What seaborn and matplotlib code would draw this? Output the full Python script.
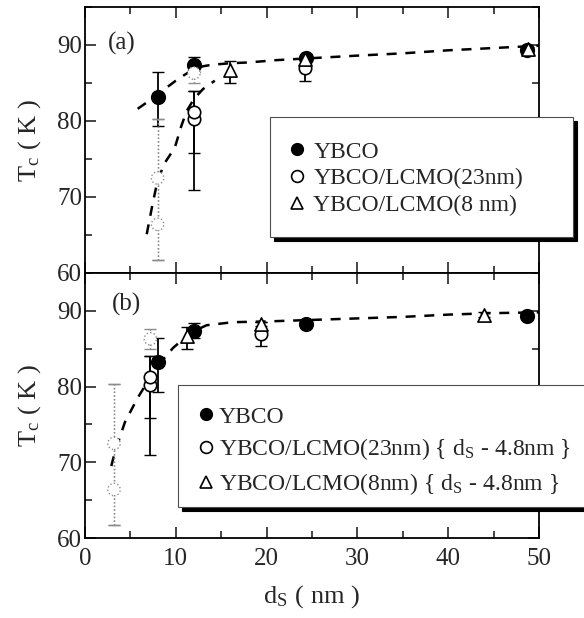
import numpy as np
import matplotlib
matplotlib.use("Agg")
import matplotlib.pyplot as plt
from matplotlib.lines import Line2D
from matplotlib.patches import Rectangle, Shadow
from matplotlib.ticker import MultipleLocator
import seaborn as sns

# YBCO single layer films
ybco_x = [8.0, 12.0, 24.3, 48.7]
ybco_y = [83.2, 87.4, 88.3, 89.3]
ybco_lo = [79.3, 86.4, 87.9, 89.0]
ybco_hi = [86.4, 88.4, 88.7, 89.6]

# YBCO/LCMO(23nm) superlattices (clear points)
l23_x = [12.0, 12.0, 24.2]
l23_y = [80.2, 81.2, 87.0]
l23_lo = [70.9, 75.8, 85.3]
l23_hi = [84.0, 84.0, 88.5]

# YBCO/LCMO(23nm) superlattices (faint points)
l23f_x = [8.0, 8.0, 12.0]
l23f_y = [72.5, 66.4, 86.3]
l23f_lo = [61.7, 61.7, 85.0]
l23f_hi = [80.3, 80.3, 87.6]

# YBCO/LCMO(8nm) superlattices
l8_x = [16.0, 24.2, 48.8]
l8_y = [86.7, 88.2, 89.5]
l8_lo = [85.0, 88.0, 89.2]
l8_hi = [87.9, 88.5, 89.8]

shift = 4.8

# dashed guide lines
fit_a1_x = [5.8, 7, 8, 9, 10, 11, 12, 13, 14, 16, 18, 21, 24, 30, 35, 40, 45, 50]
fit_a1_y = [81.6, 82.6, 83.5, 84.4, 85.3, 86.1, 86.8, 87.2, 87.4, 87.6, 87.7, 88.0,
            88.2, 88.6, 88.9, 89.3, 89.6, 89.9]
fit_a2_x = [6.8, 7.4, 8.0, 8.8, 9.9, 10.6, 11.2, 12.0, 13.0, 14.3]
fit_a2_y = [65.1, 68.8, 72.2, 74.5, 76.5, 79.3, 81.3, 82.9, 84.2, 85.3]
fit_b_x = [2.9, 3.3, 4.4, 5.8, 7.9, 9.7, 11.6, 13.4, 16.3, 20, 25, 30, 35, 40, 45, 50]
fit_b_y = [69.5, 71.4, 75.3, 78.5, 82.6, 85.1, 87.1, 88.1, 88.5, 88.6, 88.8, 89.0,
           89.2, 89.5, 89.7, 89.8]

sns.set_style("ticks")
plt.rcParams['font.family'] = ['Liberation Serif', 'DejaVu Serif']
plt.rcParams['mathtext.fontset'] = 'stix'

W, H = 584, 618


def points(ax, x, y, lo, hi, marker, face, s, faint=False):
    y = np.array(y)
    yerr = [y - np.array(lo), np.array(hi) - y]
    col = '0.55' if faint else 'black'
    eb = ax.errorbar(x, y, yerr=yerr, fmt='none', ecolor=col, capsize=4,
                     elinewidth=1.0 if faint else 1.3, capthick=1.0, zorder=2)
    if faint:
        eb[2][0].set_linestyle(':')
    sns.scatterplot(x=list(x), y=list(y), ax=ax, marker=marker, s=s,
                    color=face, edgecolor=col, linewidth=1.0 if faint else 1.2,
                    linestyle=':' if faint else '-', zorder=3, legend=False)


def guide(ax, x, y):
    sns.lineplot(x=x, y=y, ax=ax, color='black', linestyle=(0, (4, 3.5)),
                 linewidth=1.8, sort=False, estimator=None, zorder=1)


def style(ax):
    ax.set_xlim(0, 50)
    ax.set_ylim(60, 95)
    ax.xaxis.set_major_locator(MultipleLocator(10))
    ax.xaxis.set_minor_locator(MultipleLocator(5))
    ax.yaxis.set_major_locator(MultipleLocator(10))
    ax.yaxis.set_minor_locator(MultipleLocator(5))
    ax.tick_params(which='both', direction='in', top=True, right=True,
                   labelsize=18, width=1.2, pad=2)
    ax.tick_params(axis='x', pad=7)
    ax.tick_params(which='major', length=8)
    ax.tick_params(which='minor', length=5)
    for sp in ax.spines.values():
        sp.set_linewidth(1.3)
        sp.set_color('black')
    ax.set_ylabel(r'T$_\mathregular{c}$ ( K )', fontsize=19, labelpad=10)


def legend_box(x0, y0, x1, y1):
    # box in pixel coordinates measured from the top-left corner
    rect = Rectangle((x0 / W, 1 - y1 / H), (x1 - x0) / W, (y1 - y0) / H,
                     transform=fig.transFigure, facecolor='white',
                     edgecolor='0.3', linewidth=0.8, zorder=5)
    sh = Shadow(rect, 3 / W, -3 / H, color='black', alpha=1.0, zorder=4)
    fig.add_artist(sh)
    fig.add_artist(rect)


fig = plt.figure(figsize=(5.84, 6.18), dpi=100)
ax_a = fig.add_axes([0.1455, 0.5583, 0.7774, 0.4304])
ax_b = fig.add_axes([0.1455, 0.1294, 0.7774, 0.4289])

# panel (a)
guide(ax_a, fit_a1_x, fit_a1_y)
guide(ax_a, fit_a2_x, fit_a2_y)
points(ax_a, ybco_x, ybco_y, ybco_lo, ybco_hi, 'o', 'black', 95)
points(ax_a, l23f_x, l23f_y, l23f_lo, l23f_hi, 'o', 'white', 80, faint=True)
points(ax_a, l23_x, l23_y, l23_lo, l23_hi, 'o', 'white', 80)
points(ax_a, l8_x, l8_y, l8_lo, l8_hi, '^', 'white', 90)
style(ax_a)
ax_a.tick_params(labelbottom=False)
ax_a.text(2.5, 90.2, '(a)', fontsize=18, va='center', ha='left')

# panel (b): superlattices shifted by 4.8 nm
guide(ax_b, fit_b_x, fit_b_y)
points(ax_b, ybco_x, ybco_y, ybco_lo, ybco_hi, 'o', 'black', 95)
points(ax_b, np.array(l23f_x) - shift, l23f_y, l23f_lo, l23f_hi, 'o', 'white', 80, faint=True)
points(ax_b, np.array(l23_x) - shift, l23_y, l23_lo, l23_hi, 'o', 'white', 80)
points(ax_b, np.array(l8_x) - shift, l8_y, l8_lo, l8_hi, '^', 'white', 90)
style(ax_b)
ax_b.text(3.0, 90.8, '(b)', fontsize=18, va='center', ha='left')
ax_b.set_xlabel(r'd$_\mathregular{S}$ ( nm )', fontsize=19, labelpad=10)

h = [Line2D([], [], marker='o', ls='none', mfc='black', mec='black', ms=8.5),
     Line2D([], [], marker='o', ls='none', mfc='white', mec='black', ms=8.5, mew=1.2),
     Line2D([], [], marker='^', ls='none', mfc='white', mec='black', ms=8.5, mew=1.2)]

labels_a = ['YBCO', 'YBCO/LCMO(23nm)', 'YBCO/LCMO(8 nm)']
labels_b = ['YBCO',
            r'YBCO/LCMO(23nm) { d$_\mathregular{S}$ - 4.8nm }',
            r'YBCO/LCMO(8nm) { d$_\mathregular{S}$ - 4.8nm }']

legend_box(270, 117, 573, 237)
leg_a = fig.legend(h, labels_a, loc='upper left',
                   bbox_to_anchor=(285 / W, 1 - 141 / H),
                   fontsize=17, frameon=False, borderaxespad=0, borderpad=0,
                   labelspacing=0.23, handlelength=1.0, handletextpad=0.2)
leg_a.set_zorder(6)

legend_box(178, 385, 600, 507)
leg_b = fig.legend(h, labels_b, loc='upper left',
                   bbox_to_anchor=(196.5 / W, 1 - 406 / H),
                   fontsize=17, frameon=False, borderaxespad=0, borderpad=0,
                   labelspacing=0.38, handlelength=0.8, handletextpad=0.15)
leg_b.set_zorder(6)

fig.savefig('out.png', dpi=100)
